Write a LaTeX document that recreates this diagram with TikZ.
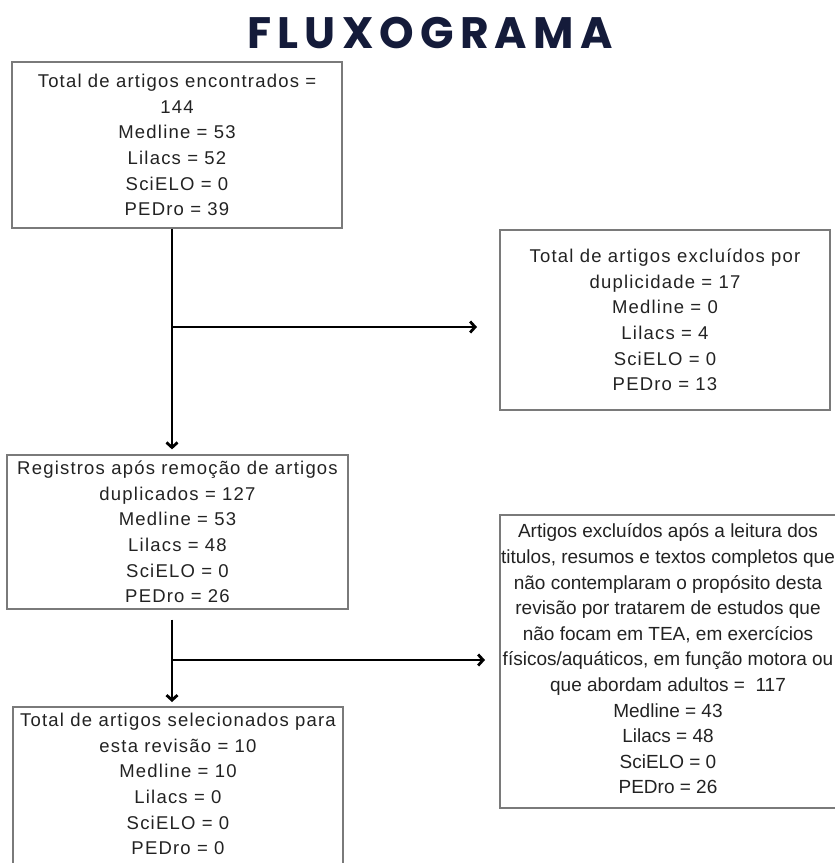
\documentclass[tikz,border=0pt]{standalone}
\usepackage{fontspec}
\setmainfont{Liberation Sans}[LetterSpace=6.5]
\newfontfamily\plainfont{Liberation Sans}
\newfontfamily\titlefont{Poppins}[LetterSpace=14]
\usetikzlibrary{arrows.meta}
\definecolor{navy}{HTML}{141B3A}
\definecolor{boxgray}{HTML}{7A7A7A}
\definecolor{ink}{HTML}{222222}

\begin{document}
\begin{tikzpicture}[x=1pt, y=-1pt,
		every node/.style={font=\fontsize{18.5}{25.6}\selectfont, text=ink},
		box/.style={draw=boxgray, line width=1.3pt, align=center, inner sep=0pt},
		frame/.style={draw=boxgray, line width=1.3pt},
		txt/.style={align=center, inner sep=0pt},
		flow/.style={line width=2.8pt, -{Straight Barb[length=5pt,width=11pt]}},
		title/.style={font=\titlefont\bfseries\fontsize{44}{44}\selectfont, text=navy}]
		\clip (0,0) rectangle (835,863);

		% Title
		\node[title] (title) at (430,33) {FLUXOGRAMA};

		% Draw the boxes on the left
		\node[box, minimum width=330pt, minimum height=166pt] (found) at (177,145)
		{Total de artigos encontrados =\\144\\Medline = 53\\Lilacs = 52\\SciELO = 0\\PEDro = 39};
		\node[box, minimum width=341pt, minimum height=154pt] (kept) at (177.5,532)
		{Registros após remoção de artigos\\duplicados = 127\\Medline = 53\\Lilacs = 48\\SciELO = 0\\PEDro = 26};
		\node[txt] (sel) at (178,784)
		{Total de artigos selecionados para\\esta revisão = 10\\Medline = 10\\Lilacs = 0\\SciELO = 0\\PEDro = 0};
		\draw[frame] (13,707) rectangle (343,880);
		\coordinate (seltop) at (178,707);

		% Draw the boxes on the right
		\node[box, minimum width=330pt, minimum height=180pt] (dup) at (665,320)
		{Total de artigos excluídos por\\duplicidade = 17\\Medline = 0\\Lilacs = 4\\SciELO = 0\\PEDro = 13};
		\node[txt, font=\plainfont\fontsize{19}{25.6}\selectfont] (excl) at (668,659)
		{Artigos excluídos após a leitura dos\\titulos, resumos e textos completos que\\não contemplaram o propósito desta\\revisão por tratarem de estudos que\\não focam em TEA, em exercícios\\físicos/aquáticos, em função motora ou\\que abordam adultos = \ 117\\Medline = 43\\Lilacs = 48\\SciELO = 0\\PEDro = 26};
		\draw[frame] (500,515) rectangle (850,808);

		% Draw the arrows
		\coordinate (fork1) at (172,327);
		\coordinate (end1) at (477,327);
		\coordinate (fork2) at (172,660);
		\coordinate (end2) at (485,660);
		\draw[flow, shorten >=5pt] (found.south -| fork1) -- (kept.north -| fork1);
		\draw[flow] (fork1) -- (end1);
		\draw[flow, shorten <=10pt, shorten >=5pt] (kept.south -| fork2) -- (seltop -| fork2);
		\draw[flow] (fork2) -- (end2);
\end{tikzpicture}
\end{document}
